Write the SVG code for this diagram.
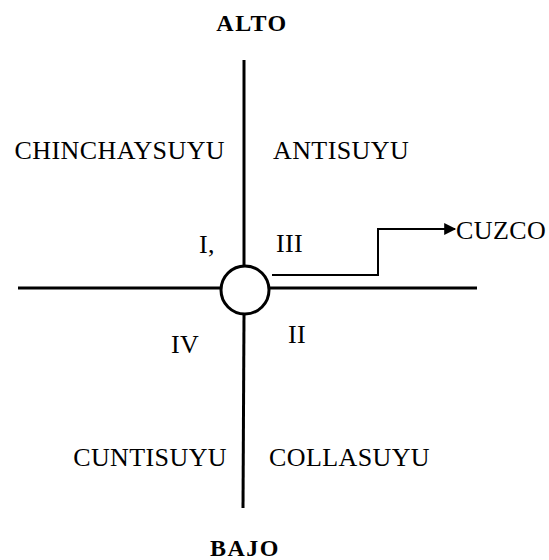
<svg xmlns="http://www.w3.org/2000/svg" width="549" height="560" viewBox="0 0 549 560">
  <style>
    .lbl { font-family: "Liberation Serif", "Times New Roman", serif; font-size: 26px; letter-spacing: 0.4px; fill: #000; }
    .head { font-family: "Liberation Serif", "Times New Roman", serif; font-size: 24px; font-weight: bold; letter-spacing: 1.5px; fill: #000; }
    .axis { stroke: #000; stroke-width: 3; fill: none; }
    .link { stroke: #000; stroke-width: 2; fill: none; }
  </style>
  <defs>
    <marker id="arrow" viewBox="0 0 10 10" refX="9" refY="5" markerWidth="7" markerHeight="6" orient="auto" markerUnits="strokeWidth">
      <path d="M0,0 L10,5 L0,10 Z" fill="#000"/>
    </marker>
  </defs>
  <rect width="549" height="560" fill="#fff"/>

  <!-- axes and the flow out of the centre -->
  <g id="connectors">
    <line class="axis" x1="244" y1="60" x2="244" y2="266"/>
    <line class="axis" x1="244" y1="314" x2="243" y2="508"/>
    <line class="axis" x1="18" y1="288" x2="221" y2="288"/>
    <line class="axis" x1="269" y1="288" x2="477" y2="288"/>
    <path class="link" d="M272,275 H378 V229 H455" marker-end="url(#arrow)"/>
  </g>

  <g id="center">
    <circle cx="245" cy="290" r="24" fill="#fff" stroke="#000" stroke-width="3"/>
  </g>

  <g id="alto"><text class="head" x="252" y="31" text-anchor="middle">ALTO</text></g>
  <g id="bajo"><text class="head" x="245" y="556" text-anchor="middle">BAJO</text></g>

  <g id="chinchaysuyu"><text class="lbl" x="225" y="159" text-anchor="end">CHINCHAYSUYU</text></g>
  <g id="antisuyu"><text class="lbl" x="273" y="159">ANTISUYU</text></g>
  <g id="cuntisuyu"><text class="lbl" x="227" y="466" text-anchor="end">CUNTISUYU</text></g>
  <g id="collasuyu"><text class="lbl" x="269" y="466">COLLASUYU</text></g>

  <g id="q1"><text class="lbl" x="199" y="253">I,</text></g>
  <g id="q3"><text class="lbl" x="276" y="252">III</text></g>
  <g id="q4"><text class="lbl" x="171" y="353">IV</text></g>
  <g id="q2"><text class="lbl" x="288" y="343">II</text></g>

  <g id="cuzco"><text class="lbl" x="456" y="239">CUZCO</text></g>
</svg>
